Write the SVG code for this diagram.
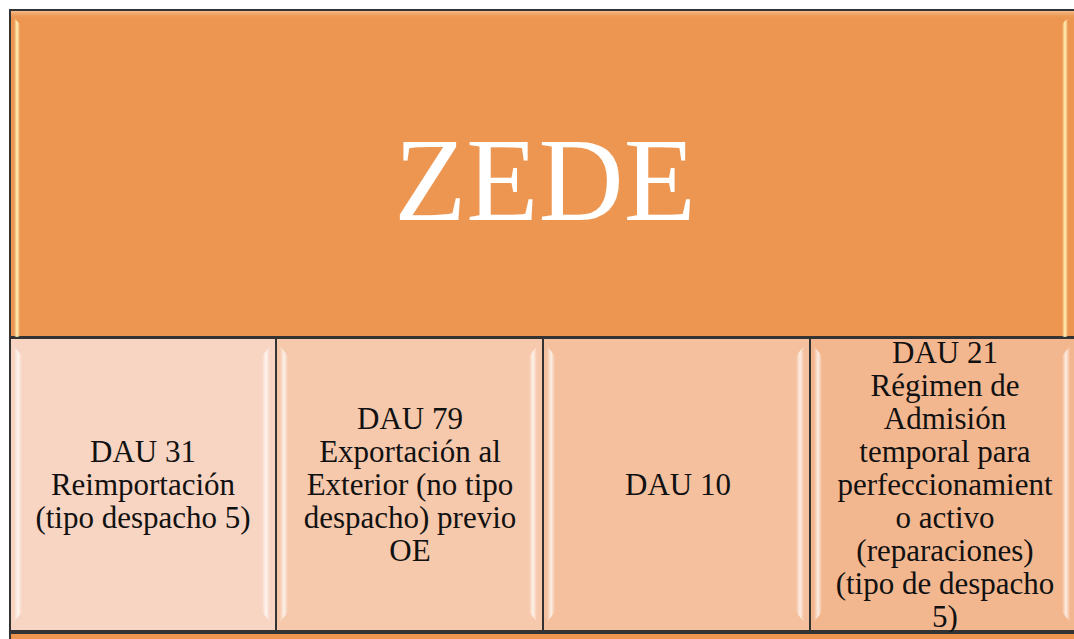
<svg xmlns="http://www.w3.org/2000/svg" width="1074" height="639" viewBox="0 0 1074 639">
  <style>
    .frame { stroke: #333333; stroke-width: 2; }
    .label { font-family: "Liberation Serif", "Times New Roman", serif; font-size: 31px; fill: #111111; text-anchor: middle; }
    .title { font-family: "Liberation Serif", "Times New Roman", serif; font-size: 118px; fill: #ffffff; text-anchor: middle; }
    .hl { fill: url(#shine); }
    .hlTop { fill: url(#shineWarm); }
  </style>
  <defs>
    <linearGradient id="shine" x1="0" y1="0" x2="1" y2="0">
      <stop offset="0" stop-color="#ffffff" stop-opacity="0"/>
      <stop offset="0.5" stop-color="#ffffff" stop-opacity="0.75"/>
      <stop offset="1" stop-color="#ffffff" stop-opacity="0"/>
    </linearGradient>
    <linearGradient id="shineWarm" x1="0" y1="0" x2="1" y2="0">
      <stop offset="0" stop-color="#FFF3B8" stop-opacity="0"/>
      <stop offset="0.5" stop-color="#FFF3B8" stop-opacity="1"/>
      <stop offset="1" stop-color="#FFF3B8" stop-opacity="0"/>
    </linearGradient>
    <linearGradient id="topBand" x1="0" y1="0" x2="0" y2="1">
      <stop offset="0" stop-color="#F6BE8C" stop-opacity="1"/>
      <stop offset="1" stop-color="#EC9651" stop-opacity="0"/>
    </linearGradient>
  </defs>

  <rect width="1074" height="639" fill="#ffffff"/>

  <!-- header block -->
  <g id="zede">
    <rect class="frame" x="10" y="10" width="1072" height="327" fill="#EC9651"/>
    <rect x="11" y="11" width="1070" height="8" fill="url(#topBand)"/>
    <polygon class="hlTop" points="14,18 20,24 20,337 14,337"/>
    <polygon class="hlTop" points="1062,24 1068,18 1068,337 1062,337"/>
    <text class="title" x="545" y="220">ZEDE</text>
  </g>

  <!-- DAU 31 -->
  <g id="dau31">
    <rect class="frame" x="10" y="338" width="266" height="293" fill="#F8D5C2"/>
    <polygon class="hl" points="14,346 22,356 22,612 14,622"/>
    <polygon class="hl" points="262,356 270,346 270,622 262,612"/>
    <text class="label" x="143" y="462">DAU 31</text>
    <text class="label" x="143" y="495">Reimportación</text>
    <text class="label" x="143" y="528">(tipo despacho 5)</text>
  </g>

  <!-- DAU 79 -->
  <g id="dau79">
    <rect class="frame" x="276" y="338" width="267" height="293" fill="#F6C8AC"/>
    <polygon class="hl" points="280,346 288,356 288,612 280,622"/>
    <polygon class="hl" points="529,356 537,346 537,622 529,612"/>
    <text class="label" x="410" y="429">DAU 79</text>
    <text class="label" x="410" y="462">Exportación al</text>
    <text class="label" x="410" y="495">Exterior (no tipo</text>
    <text class="label" x="410" y="528">despacho) previo</text>
    <text class="label" x="410" y="561">OE</text>
  </g>

  <!-- DAU 10 -->
  <g id="dau10">
    <rect class="frame" x="543" y="338" width="267" height="293" fill="#F5C09E"/>
    <polygon class="hl" points="547,346 555,356 555,612 547,622"/>
    <polygon class="hl" points="796,356 804,346 804,622 796,612"/>
    <text class="label" x="678" y="495">DAU 10</text>
  </g>

  <!-- DAU 21 -->
  <g id="dau21">
    <rect class="frame" x="810" y="338" width="272" height="293" fill="#F3B790"/>
    <polygon class="hl" points="814,346 822,356 822,612 814,622"/>
    <polygon class="hl" points="1062,356 1070,346 1070,622 1062,612"/>
    <text class="label" x="945" y="363">DAU 21</text>
    <text class="label" x="945" y="396">Régimen de</text>
    <text class="label" x="945" y="429">Admisión</text>
    <text class="label" x="945" y="462">temporal para</text>
    <text class="label" x="945" y="495">perfeccionamient</text>
    <text class="label" x="945" y="528">o activo</text>
    <text class="label" x="945" y="561">(reparaciones)</text>
    <text class="label" x="945" y="594">(tipo de despacho</text>
    <text class="label" x="945" y="627">5)</text>
  </g>

  <!-- next block, cut off at the lower edge -->
  <g id="lower">
    <rect class="frame" x="10" y="633" width="1072" height="30" fill="#EC9651"/>
  </g>

  <g id="connectors"></g>
</svg>
